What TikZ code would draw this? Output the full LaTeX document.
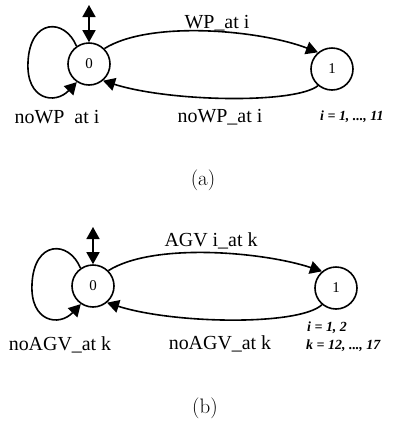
\documentclass[tikz,border=0pt]{standalone}
\usepackage{fontspec}
\newfontfamily\tnr{Liberation Serif}
\usetikzlibrary{arrows.meta}
\tikzset{
  st/.style={circle, draw, line width=1.6bp, minimum size=42bp, inner sep=0pt, font=\tnr\fontsize{15}{15}\selectfont},
  lbl/.style={font=\tnr\fontsize{20}{22}\selectfont, inner sep=0pt},
  rng/.style={font=\tnr\bfseries\itshape\fontsize{14}{16}\selectfont, inner sep=0pt, anchor=west},
  capt/.style={font=\fontsize{21}{24}\selectfont, inner sep=0pt},
  tr/.style={line width=1.6bp},
  ah/.tip={Triangle[length=12bp,width=13bp]}
}
\begin{document}
\begin{tikzpicture}[x=1bp,y=-1bp]
\useasboundingbox (0,0) rectangle (398,428);
% ---------- (a)
\node[st] (a0) at (89,64) {0};
\node[st] (a1) at (332,69) {1};
\coordinate (a0in) at (89,5);
\draw[tr,ah-ah] (a0in) -- (a0.north);
\draw[tr,-ah] (a0.125) .. controls (65,18) and (30,18) .. (28,62) .. controls (26,100) and (55,105) .. (a0.236);
\draw[tr,-ah] (a0.45) .. controls (150,20) and (260,30) .. (a1.130);
\draw[tr,-ah] (a1.-130) .. controls (295,104) and (170,102) .. (a0.-50);
\node[lbl] (la1) at (217,23) {WP\_at i};
\node[lbl] (la2) at (220,117) {noWP\_at i};
\node[lbl] (la3) at (57,117) {noWP\ \ at i};
\node[rng] (la4) at (320,117) {i = 1, ..., 11};
\node[capt] (capa) at (203,180) {(a)};
% ---------- (b)
\node[st] (b0) at (93,286) {0};
\node[st] (b1) at (336,288) {1};
\coordinate (b0in) at (93,227);
\draw[tr,ah-ah] (b0in) -- (b0.north);
\draw[tr,-ah] (b0.125) .. controls (69,240) and (34,240) .. (32,284) .. controls (30,322) and (59,327) .. (b0.236);
\draw[tr,-ah] (b0.45) .. controls (154,242) and (264,252) .. (b1.130);
\draw[tr,-ah] (b1.-130) .. controls (299,326) and (174,324) .. (b0.-50);
\node[lbl] (lb1) at (211,241) {AGV i\_at k};
\node[lbl] (lb2) at (220,344) {noAGV\_at k};
\node[lbl] (lb3) at (60,345) {noAGV\_at k};
\node[rng] (lb4) at (307,328) {i = 1, 2};
\node[rng] (lb5) at (306,346) {k = 12, ..., 17};
\node[capt] (capb) at (205,408) {(b)};
\end{tikzpicture}
\end{document}
